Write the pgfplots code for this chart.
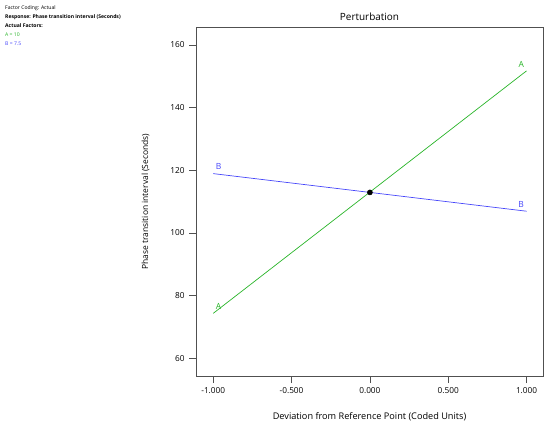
\documentclass[border=0pt]{standalone}
\usepackage{pgfplots}
\pgfplotsset{compat=1.18}
\usepackage{fontspec}
\setmainfont{Open Sans}
\definecolor{lgreen}{RGB}{40,180,40}
\definecolor{lblue}{RGB}{70,70,250}
\definecolor{axgray}{RGB}{80,80,80}
\begin{document}
\begin{tikzpicture}
\path[use as bounding box] (0bp,0bp) rectangle (550bp,428bp);
\node[anchor=north west,inner sep=0pt,align=left,font=\fontsize{5.1}{9.2}\selectfont] at (5bp,423bp)
 {Factor Coding: Actual\\
  \textbf{Response: Phase transition interval (Seconds)}\\
  \textbf{Actual Factors:}\\
  \textcolor{lgreen}{A = 10}\\
  \textcolor{lblue}{B = 7.5}};
\begin{axis}[
  at={(196bp,52bp)}, anchor=south west,
  scale only axis, width=347bp, height=349bp,
  xmin=-1.11, xmax=1.105, ymin=54.3, ymax=165.7,
  xtick={-1,-0.5,0,0.5,1},
  xticklabels={-1.000,-0.500,0.000,0.500,1.000},
  ytick={60,80,...,160},
  tick align=outside, tick pos=left,
  major tick length=7bp,
  axis line style={axgray, line width=0.9pt},
  every tick/.style={axgray, line width=0.6pt},
  ticklabel style={font=\fontsize{8.3}{9}\selectfont},
  xticklabel style={yshift=-1bp},
  yticklabel style={xshift=-1bp},
  /pgf/number format/assume math mode=true,
  title={Perturbation},
  title style={font=\fontsize{10}{12}\selectfont, yshift=-3bp},
  xlabel={Deviation from Reference Point (Coded Units)},
  ylabel={Phase transition interval (Seconds)},
  xlabel style={font=\fontsize{9.2}{10}\selectfont, yshift=-12bp},
  ylabel style={font=\fontsize{8.5}{10}\selectfont, yshift=14bp},
  clip=false,
]
\addplot[lgreen, line width=0.7pt] coordinates {(-1,74.3) (1,151.7)}
  node[pos=0, anchor=south west, font=\fontsize{8.5}{9}\selectfont, xshift=-1bp, text=lgreen]{A}
  node[pos=1, anchor=south east, font=\fontsize{8.5}{9}\selectfont, xshift=1bp, text=lgreen]{A};
\addplot[lblue, line width=0.7pt] coordinates {(-1,118.9) (1,106.9)}
  node[pos=0, anchor=south west, font=\fontsize{8.5}{9}\selectfont, xshift=-1bp, text=lblue]{B}
  node[pos=1, anchor=south east, font=\fontsize{8.5}{9}\selectfont, xshift=1bp, text=lblue]{B};
\addplot[only marks, mark=*, mark size=2.6pt, black] coordinates {(0,112.9)};
\end{axis}
\end{tikzpicture}
\end{document}
